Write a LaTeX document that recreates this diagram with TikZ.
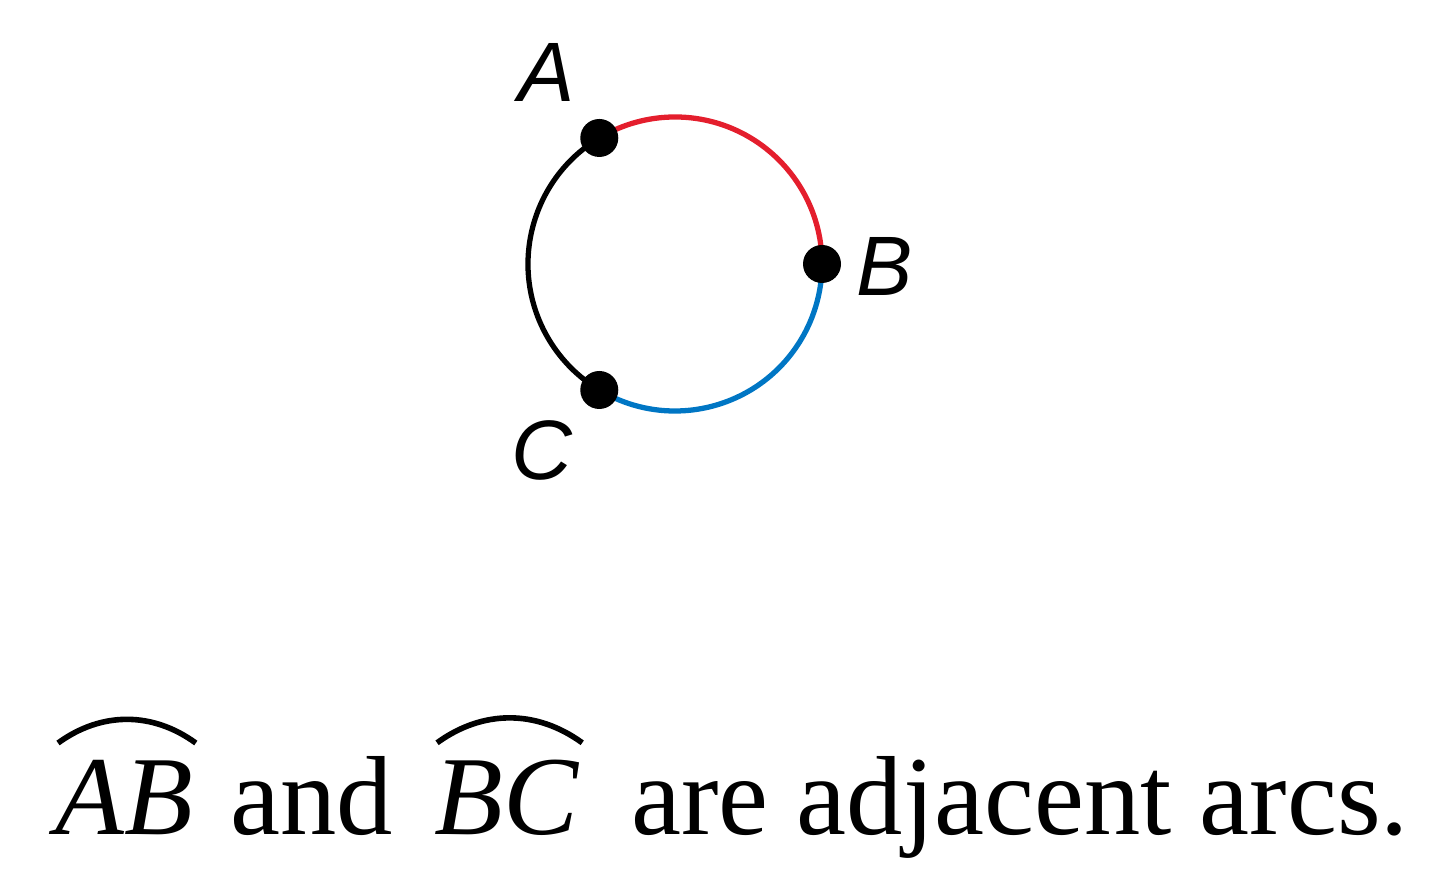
\documentclass[tikz,border=0pt]{standalone}
\usepackage{fontspec}
\setmainfont{Liberation Serif}
\newfontfamily\labelfont{Liberation Sans}
\usetikzlibrary{calc}
\definecolor{arcred}{RGB}{228,30,45}
\definecolor{arcblue}{RGB}{0,118,196}

\begin{document}
\begin{tikzpicture}

    \useasboundingbox (0,0) rectangle (14.4,8.7);
    \tikzstyle{dot}=[circle, fill=black, inner sep=0pt, minimum size=0.38cm];
    \tikzstyle{pointlabel}=[inner sep=0pt, font=\labelfont\itshape\fontsize{24}{24}\selectfont];
    \tikzstyle{caption}=[anchor=base west, inner sep=0pt, font=\fontsize{32}{33}\selectfont];

    \coordinate (O) at (6.75, 6.06);
    \coordinate (pA) at ($(O)+(121:1.47)$);
    \coordinate (pB) at ($(O)+(0:1.47)$);
    \coordinate (pC) at ($(O)+(-121:1.47)$);

    \draw[arcred, line width=1.5pt] (pB) arc[start angle=0, end angle=121, radius=1.47];
    \draw[black, line width=1.5pt] (pA) arc[start angle=121, end angle=239, radius=1.47];
    \draw[arcblue, line width=1.5pt] (pC) arc[start angle=239, end angle=360, radius=1.47];

    \node (A) at (pA) [dot] {};
    \node (B) at (pB) [dot] {};
    \node (C) at (pC) [dot] {};

    \node (lA) at (5.47, 7.97) [pointlabel] {A};
    \node (lB) at (8.85, 6.03) [pointlabel] {B};
    \node (lC) at (5.42, 4.20) [pointlabel] {C};

    \node (ab) at (0.55, 0.35) [caption] {\textit{AB}};
    \node (and) at (ab.base east) [caption] {\hspace*{0.32em}and\hspace*{0.36em}};
    \node (bc) at (and.base east) [caption] {\textit{BC}};
    \node (rest) at (bc.base east) [caption] {\hspace*{0.45em}are adjacent arcs.};

    \draw[line width=1.6pt] ($(ab.north west)+(0.03,0.17)$) to[bend left=36] ($(ab.north east)+(0.02,0.17)$);
    \draw[line width=1.6pt] ($(bc.north west)+(0.03,0.17)$) to[bend left=36] ($(bc.north east)+(0.02,0.17)$);

\end{tikzpicture}
\end{document}
